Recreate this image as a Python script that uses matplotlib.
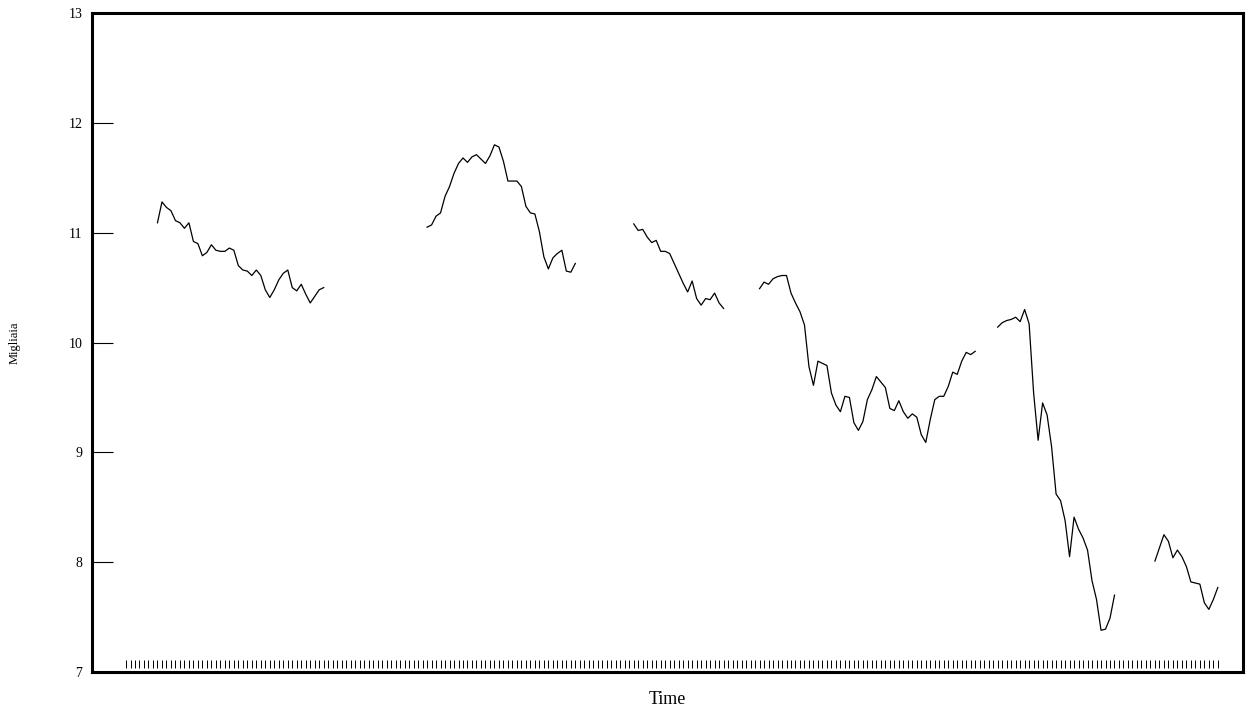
import numpy as np
import matplotlib
matplotlib.use("Agg")
import matplotlib.pyplot as plt

plt.rcParams["font.family"] = ["Liberation Serif", "DejaVu Serif"]

nan = np.nan

# observed stretches of the series (missing weeks in between)
seg1 = [11.09, 11.28, 11.23, 11.20, 11.11, 11.09, 11.04, 11.09, 10.92, 10.90,
        10.79, 10.82, 10.89, 10.84, 10.83, 10.83, 10.86, 10.84, 10.70, 10.66,
        10.65, 10.61, 10.66, 10.61, 10.48, 10.41, 10.48, 10.57, 10.63, 10.66,
        10.50, 10.47, 10.53, 10.44, 10.36, 10.42, 10.48, 10.50]
seg2 = [11.05, 11.07, 11.15, 11.18, 11.33, 11.42, 11.54, 11.63, 11.68, 11.64,
        11.69, 11.71, 11.67, 11.63, 11.70, 11.80, 11.78, 11.65, 11.47, 11.47,
        11.47, 11.42, 11.24, 11.18, 11.17, 11.01, 10.78, 10.67, 10.77, 10.81,
        10.84, 10.65, 10.64, 10.72]
seg3 = [11.08, 11.02, 11.03, 10.96, 10.91, 10.93, 10.83, 10.83, 10.81, 10.72,
        10.63, 10.54, 10.46, 10.56, 10.40, 10.34, 10.40, 10.39, 10.45, 10.36,
        10.31]
seg4 = [10.49, 10.55, 10.53, 10.58, 10.60, 10.61, 10.61, 10.45, 10.36, 10.28,
        10.16, 9.78, 9.61, 9.83, 9.81, 9.79, 9.54, 9.43, 9.37, 9.51,
        9.50, 9.27, 9.20, 9.28, 9.48, 9.57, 9.69, 9.64, 9.59, 9.40,
        9.38, 9.47, 9.37, 9.31, 9.35, 9.32, 9.16, 9.09, 9.30, 9.48,
        9.51, 9.51, 9.60, 9.73, 9.71, 9.83, 9.91, 9.89, 9.92]
seg5 = [10.14, 10.18, 10.20, 10.21, 10.23, 10.19, 10.30, 10.17, 9.54, 9.11,
        9.45, 9.34, 9.05, 8.62, 8.56, 8.38, 8.05, 8.41, 8.30, 8.22,
        8.11, 7.83, 7.66, 7.38, 7.39, 7.49, 7.70]
seg6 = [8.01, 8.13, 8.25, 8.19, 8.04, 8.11, 8.05, 7.96, 7.82, 7.81,
        7.80, 7.63, 7.57, 7.66, 7.77]

values = ([nan] * 7 + seg1 + [nan] * 22 + seg2 + [nan] * 12 + seg3 +
          [nan] * 7 + seg4 + [nan] * 4 + seg5 + [nan] * 8 + seg6)
values = np.array(values, dtype=float)
t = np.arange(len(values))

y_ticks = [7, 8, 9, 10, 11, 12, 13]

fig = plt.figure(figsize=(12.53, 7.13), dpi=100)
ax = fig.add_axes([92 / 1253, 41 / 713, 1151 / 1253, 659 / 713])

ax.plot(t, values, color="black", lw=0.9)

# rug of time points along the bottom
for xi in t:
    ax.plot([xi, xi], [7.035, 7.11], color="black", lw=0.7, solid_capstyle="butt")

ax.set_xlim(-7.57, 248.6)
ax.set_ylim(7, 13)
ax.set_yticks(y_ticks)
ax.set_yticklabels([str(v) for v in y_ticks])
ax.set_xticks([])
ax.tick_params(axis="y", direction="in", length=15, width=0.8, pad=7, labelsize=10)

for s in ax.spines.values():
    s.set_linewidth(2.2)

ax.set_xlabel("Time", fontsize=13, labelpad=14)
ax.set_ylabel("Migliaia", fontsize=9, labelpad=34)

fig.savefig("out.png", dpi=100)
